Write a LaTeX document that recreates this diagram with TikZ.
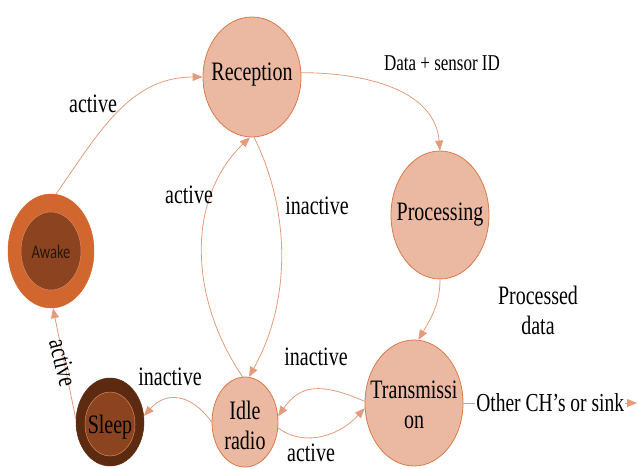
\documentclass[tikz,border=0pt]{standalone}
\usepackage{fontspec}
\setmainfont{Liberation Serif}
\newfontfamily\awakefont{Carlito}
\usetikzlibrary{shapes.geometric,arrows.meta}

\definecolor{nodefill}{HTML}{EBB9A1}
\definecolor{nodeline}{HTML}{D87A4C}
\definecolor{edgecol}{HTML}{E39C7C}
\definecolor{awakeout}{HTML}{D1672F}
\definecolor{darkin}{HTML}{8C4320}
\definecolor{sleepout}{HTML}{5B2A11}
\definecolor{innerline}{HTML}{D9885E}
\definecolor{awaketext}{HTML}{2B1408}

% condensed-looking text: normal width, stretched upwards
\newcommand\tallt[1]{\scalebox{1}[1.33]{#1}}

\tikzset{
  state/.style={ellipse, draw=nodeline, fill=nodefill, line width=0.8pt, inner sep=0pt},
  txt/.style={font=\fontsize{20}{30}\selectfont, align=center, inner sep=0pt, text=black},
  flow/.style={draw=edgecol, line width=0.8pt, -{Triangle[length=10pt,width=8pt,fill=edgecol]}},
}

\begin{document}
\begin{tikzpicture}[x=1pt,y=-1pt]
\useasboundingbox (0,0) rectangle (638,469);

% main states
\node[state, minimum width=98, minimum height=120] (rec) at (252,77) {};
\node[txt] (rect) at (252,75) {\tallt{Reception}};
\node[state, minimum width=98, minimum height=128] (proc) at (440,215) {};
\node[txt] (proct) at (440,215) {\tallt{Processing}};
\node[state, minimum width=98, minimum height=126] (trans) at (414,403) {};
\node[txt] (transt) at (414,405) {\tallt{Transmissi}\\\tallt{on}};
\node[state, minimum width=66, minimum height=90] (idle) at (245,422) {};
\node[txt] (idlet) at (245,425) {\tallt{Idle}\\\tallt{radio}};

% awake state: double ring
\node[ellipse, fill=awakeout, draw=awakeout, line width=0.5pt, inner sep=0pt,
      minimum width=86, minimum height=114] (awake) at (51,251) {};
\node[ellipse, fill=darkin, draw=innerline, line width=0.5pt, inner sep=0pt,
      minimum width=60, minimum height=78] (awakein) at (51,251) {};
\node[font=\awakefont\fontsize{14.5}{18}\selectfont, text=awaketext, inner sep=0pt] (awaket) at (51,252) {\tallt{Awake}};

% sleep state: double ring
\node[ellipse, fill=sleepout, draw=sleepout, line width=0.5pt, inner sep=0pt,
      minimum width=68, minimum height=88] (sleep) at (110,422) {};
\node[ellipse, fill=darkin, draw=innerline, line width=0.5pt, inner sep=0pt,
      minimum width=50, minimum height=64] (sleepin) at (110,424) {};
\node[txt] (sleept) at (110,427) {\tallt{Sleep}};

% transitions
\draw[flow] (awake.85) to[out=55,in=180] (rec.180);
\draw[flow] (rec.5) to[out=0,in=95] (proc.90);
\draw[flow] (proc.270) to[out=-90,in=60] (trans.86);
\draw[flow] (rec.-88) .. controls (290,210) and (292,300) .. (idle.85);
\draw[flow] (idle.93) .. controls (190,300) and (185,200) .. (rec.-92);
\draw[flow] (idle.180) .. controls (190,392) and (165,392) .. (sleep.10);
\draw[flow] (sleep.175) -- (awake.-88);
\draw[flow] (trans.178) .. controls (320,382) and (300,385) .. (idle.10);
\draw[flow] (idle.-10) .. controls (300,445) and (335,440) .. (trans.186);
\coordinate (sink) at (637,403);
\draw[flow] (trans.0) -- node[fill=white, inner sep=1pt, font=\fontsize{19.5}{30}\selectfont] (sinkt) {\tallt{Other CH’s or sink}} (sink);

% transition labels
\node[txt] (l1) at (93,104) {\tallt{active}};
\node[txt, font=\fontsize{17}{26}\selectfont] (l2) at (442,63) {\tallt{Data + sensor ID}};
\node[txt] (l3) at (189,195) {\tallt{active}};
\node[txt] (l4) at (317,206) {\tallt{inactive}};
\node[txt] (l5) at (538,310) {\tallt{Processed}\\\tallt{data}};
\node[txt] (l6) at (316,357) {\tallt{inactive}};
\node[txt] (l7) at (170,377) {\tallt{inactive}};
\node[txt] (l8) at (311,453) {\tallt{active}};
\node[txt, rotate=-76] (l9) at (63,363) {\tallt{active}};
\end{tikzpicture}
\end{document}
